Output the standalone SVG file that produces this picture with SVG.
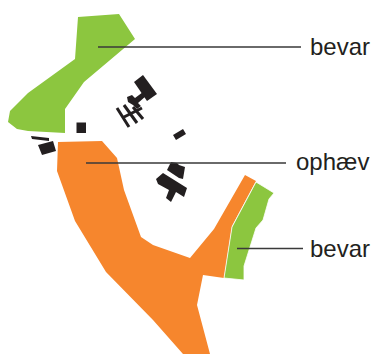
<svg xmlns="http://www.w3.org/2000/svg" width="372" height="354" viewBox="0 0 372 354">
<style>
.g{fill:#8cc63f}
.o{fill:#f6862d}
.b{fill:#231f20}
.s{fill:none;stroke:#231f20}
.l{fill:none;stroke:#3a3a3a;stroke-width:1.5}
.t{font-family:"Liberation Sans",Arial,sans-serif;font-size:24px;fill:#231f20}
</style>
<g id="green-top"><polygon class="g" points="78,17 119,14 135,39 84,82 65,109 65,133 28,131 17,129 8,122 10,111 28,93 75,59"/></g>
<g id="orange"><polygon class="o" points="58,142 102,141 117,158 124,190 141,237 153,245 190,258 214,229 245,175 256,181 232,226 224,278 203,275 197,305 210,354 183,354 153,320 106,272 75,221 57,171"/></g>
<g id="green-right"><polygon class="g" points="256,182 274,193 269,199 263,220 256,228 244,266 244,280 224,278 232,227" stroke="#fff" stroke-width="0.800"/></g>
<g id="buildings">
<polygon class="b" points="134,82 143,75 157,94 147,101"/>
<polygon class="b" points="127,97 132,95 135,98 143,92 146,96 138,103 141,106 137,109 133,105 128,102"/>
<path class="s" stroke-width="3" d="M117,108 129,127M124,105 137,123M133,107 143,119M122,118 142,108"/>
<polygon class="b" points="173,135 183,129 186,134 176,140"/>
<polygon class="b" points="171,162 177,163 179,165 185,167 183,179 179,178 170,172 167,170"/>
<polygon class="b" points="163,173 187,188 184,197 176,192 171,202 166,198 169,190 158,184 156,179"/>
<rect class="b" x="76.500" y="122.500" width="9.500" height="10.500"/>
<polygon class="b" points="31,136 49,138 49,141 32,139"/>
<polygon class="b" points="38,145 53,141 56,151 42,155"/>
</g>
<g id="connectors">
<path class="l" d="M98,47H301M86,163H286M237,248.500H303"/>
</g>
<g id="labels">
<text class="t" x="310" y="55">bevar</text>
<text class="t" x="296" y="170">ophæv</text>
<text class="t" x="310" y="257">bevar</text>
</g>
</svg>
